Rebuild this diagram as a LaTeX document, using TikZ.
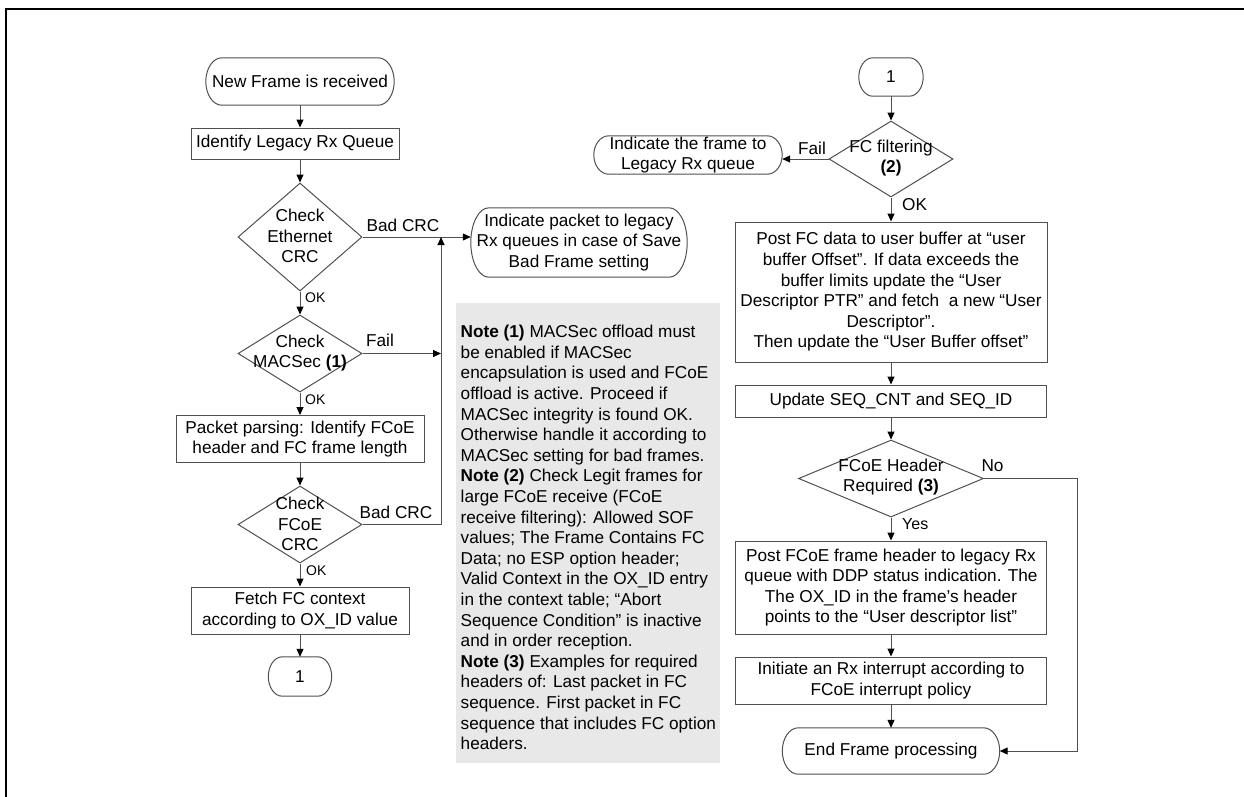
\documentclass[tikz,border=0pt]{standalone}
\usepackage{fontspec}
\setmainfont{Liberation Sans}
\usetikzlibrary{shapes.geometric,arrows.meta,calc}
\definecolor{lc}{HTML}{505050}
\definecolor{notebg}{HTML}{E8E8E8}
% outline of a terminal: #1 node name, #2 horizontal radius of the elliptic ends
\newcommand\TermOutline[2]{%
  \draw[draw=lc, line width=1pt]
    ([xshift=#2]#1.north west) -- ([xshift=-#2]#1.north east)
    .. controls ([xshift=-0.448*#2]#1.north east) and ($(#1.east)!0.552!(#1.north east)$) .. (#1.east)
    .. controls ($(#1.east)!0.552!(#1.south east)$) and ([xshift=-0.448*#2]#1.south east) .. ([xshift=-#2]#1.south east)
    -- ([xshift=#2]#1.south west)
    .. controls ([xshift=0.448*#2]#1.south west) and ($(#1.west)!0.552!(#1.south west)$) .. (#1.west)
    .. controls ($(#1.west)!0.552!(#1.north west)$) and ([xshift=0.448*#2]#1.north west) .. ([xshift=#2]#1.north west)
    -- cycle;}
\begin{document}
\begin{tikzpicture}[x=1pt,y=-1pt,
  every node/.style={font=\fontsize{17.2}{20.6}\selectfont, inner sep=0pt, align=center},
  box/.style={draw=lc, line width=1pt, rectangle},
  term/.style={rectangle},
  dia/.style={draw=lc, line width=1pt, diamond, inner sep=0pt},
  conn/.style={draw=lc, line width=1pt},
  arr/.style={conn, -{Triangle[length=8pt,width=7pt,color=black]}},
  lbl/.style={font=\fontsize{17.2}{20.6}\selectfont},
  slbl/.style={font=\fontsize{14}{16}\selectfont, anchor=west}]
\useasboundingbox (0,0) rectangle (1244,796);
\draw[line width=2pt] (6,800) -- (6,9) -- (1250,9);

% ---------- left column ----------
\node[term, minimum width=188, minimum height=47] (t1) at (300,81.5) {New Frame is received};
\TermOutline{t1}{16pt}
\node[box, minimum width=208, minimum height=31] (b1) at (295,143.5) {Identify Legacy Rx Queue};
\node[dia, minimum width=124, minimum height=108] (d1) at (300,237) {};
\node (d1t) at (300,236) {Check\\Ethernet\\CRC};
\node[dia, minimum width=124, minimum height=77] (d2) at (300,353.5) {};
\node (d2t) at (300,353) {Check\\MACSec \textbf{(1)}};
\node[box, minimum width=248, minimum height=47] (b2) at (300,439) {Packet parsing: Identify FCoE\\header and FC frame length};
\node[dia, minimum width=124, minimum height=77] (d3) at (300,524.5) {};
\node (d3t) at (300,524) {Check\\FCoE\\CRC};
\node[box, minimum width=218, minimum height=47] (b3) at (300,610.5) {Fetch FC context\\according to OX\_ID value};
\node[term, minimum width=63, minimum height=39] (t3) at (300,676.5) {1};
\TermOutline{t3}{14pt}
\node[term, minimum width=216, minimum height=69] (t2) at (579,242.5) {Indicate packet to legacy\\Rx queues in case of Save\\Bad Frame setting};
\TermOutline{t2}{18pt}
\coordinate (jx) at (441,0);

\draw[arr] (t1.south) -- (t1.south |- b1.north);
\draw[arr] (d1.north |- b1.south) -- (d1.north);
\draw[arr] (d1.south) -- (d2.north);
\draw[arr] (d2.south) -- (b2.north);
\draw[arr] (b2.south) -- (d3.north);
\draw[arr] (d3.south) -- (b3.north);
\draw[arr] (b3.south) -- (t3.north);
\draw[arr] (d1.east) -- (d1.east -| t2.west);
\draw[arr] (d2.east) -- (d2.east -| jx);
\draw[arr] (d3.east) -- (d3.east -| jx) -- (d1.east -| jx);

\node[lbl] (l1) at (403,225) {Bad CRC};
\node[slbl] (l2) at (305,298) {OK};
\node[lbl] (l3) at (380,340) {Fail};
\node[slbl] (l4) at (305,400) {OK};
\node[lbl] (l5) at (396,512) {Bad CRC};
\node[slbl] (l6) at (306,571) {OK};

% ---------- note ----------
\node[fill=notebg, minimum width=264, minimum height=460, anchor=north west] (notebox) at (456,303) {};
\node[anchor=north west, align=left] (notetext) at (460.5,325) {%
\textbf{Note (1)} MACSec offload must\\
be enabled if MACSec\\
encapsulation is used and FCoE\\
offload is active. Proceed if\\
MACSec integrity is found OK.\\
Otherwise handle it according to\\
MACSec setting for bad frames.\\
\textbf{Note (2)} Check Legit frames for\\
large FCoE receive (FCoE\\
receive filtering): Allowed SOF\\
values; The Frame Contains FC\\
Data; no ESP option header;\\
Valid Context in the OX\_ID entry\\
in the context table; “Abort\\
Sequence Condition” is inactive\\
and in order reception.\\
\textbf{Note (3)} Examples for required\\
headers of: Last packet in FC\\
sequence. First packet in FC\\
sequence that includes FC option\\
headers.};

% ---------- right column ----------
\node[term, minimum width=64, minimum height=38] (t4) at (891,77) {1};
\TermOutline{t4}{14pt}
\node[dia, minimum width=124, minimum height=76] (d4) at (891,159) {};
\node (d4t) at (891,158) {FC filtering\\\textbf{(2)}};
\node[term, minimum width=188, minimum height=38] (t5) at (688,155) {Indicate the frame to\\Legacy Rx queue};
\TermOutline{t5}{15pt}
\node[box, minimum width=312, minimum height=140] (b4) at (891,292) {Post FC data to user buffer at “user\\buffer Offset”. If data exceeds the\\buffer limits update the “User\\Descriptor PTR” and fetch\ \ a new “User\\Descriptor”.\\Then update the “User Buffer offset”};
\node[box, minimum width=311, minimum height=32] (b5) at (891,401) {Update SEQ\_CNT and SEQ\_ID};
\node[dia, minimum width=185, minimum height=77] (d6) at (891,478.5) {};
\node (d6t) at (891,477) {FCoE Header\\Required \textbf{(3)}};
\node[box, minimum width=311, minimum height=93] (b6) at (891,587.5) {Post FCoE frame header to legacy Rx\\queue with DDP status indication. The\\The OX\_ID in the frame’s header\\points to the “User descriptor list”};
\node[box, minimum width=311, minimum height=47] (b7) at (891,680.5) {Initiate an Rx interrupt according to\\FCoE interrupt policy};
\node[term, minimum width=217, minimum height=46] (t7) at (891,751) {End Frame processing};
\TermOutline{t7}{16pt}
\coordinate (nx) at (1077,0);

\draw[arr] (t4.south) -- (d4.north);
\draw[arr] (d4.west) -- (d4.west -| t5.east);
\draw[arr] (d4.south) -- (b4.north);
\draw[arr] (b4.south) -- (b5.north);
\draw[arr] (b5.south) -- (d6.north);
\draw[arr] (d6.south) -- (b6.north);
\draw[arr] (b6.south) -- (b7.north);
\draw[arr] (b7.south) -- (t7.north);
\draw[arr] (d6.east) -- (d6.east -| nx) -- (nx |- t7.east) -- (t7.east);

\node[lbl] (l7) at (812,148) {Fail};
\node[lbl, anchor=west] (l8) at (902,205) {OK};
\node[lbl] (l9) at (992.5,466) {No};
\node[lbl, anchor=west, font=\fontsize{16}{18}\selectfont] (l10) at (902,524) {Yes};
\end{tikzpicture}
\end{document}
